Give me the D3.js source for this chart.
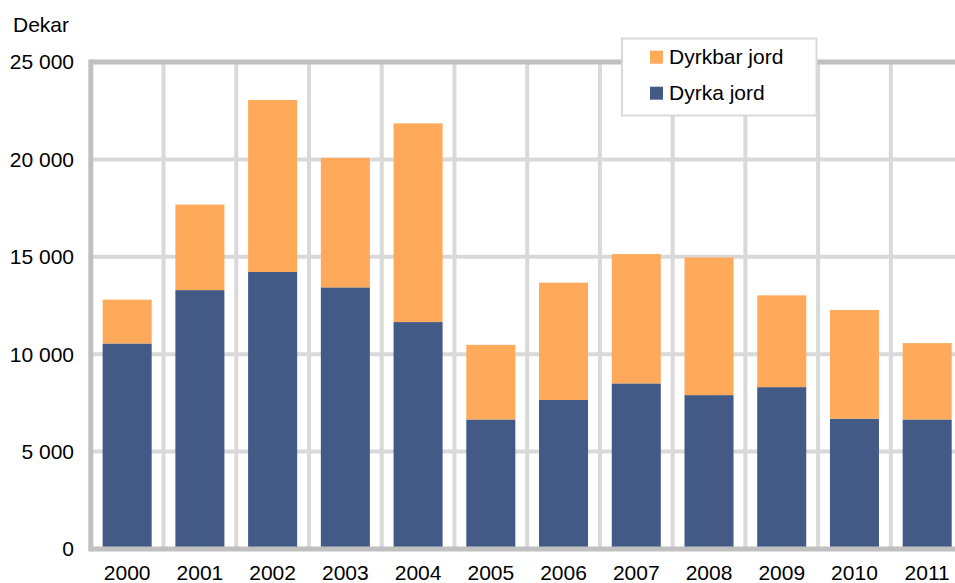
<!DOCTYPE html>
<html>
<head>
<meta charset="utf-8">
<script src="https://cdn.jsdelivr.net/npm/d3@7"></script>
<style>
    body { margin: 0; background: #fff; }
    text { font-family: "Liberation Sans", Arial, sans-serif; fill: #000; }
</style>
</head>
<body>
<div id="chart"></div>
<script>
// years on the x axis
const years = ["2000", "2001", "2002", "2003", "2004", "2005", "2006", "2007", "2008", "2009", "2010", "2011"];
// cultivated land (bottom part)
const dyrka = [10550, 13290, 14220, 13430, 11650, 6650, 7650, 8500, 7900, 8310, 6690, 6650];
// cultivable land (top part)
const dyrkbar = [2250, 4390, 8830, 6650, 10200, 3830, 6020, 6640, 7070, 4710, 5580, 3920];
const yTicks = [0, 5000, 10000, 15000, 20000, 25000];
const seriesNames = ["Dyrka jord", "Dyrkbar jord"];

var width = 955;
var height = 583;
var marginLeft = 90.8;
var marginTop = 62;
var marginBottom = 34;
var plotRight = marginLeft + years.length * 72.73;

const colors = { "Dyrka jord": "#435a87", "Dyrkbar jord": "#ffaa5a" };

const table = years.map((y, i) => ({ year: y, "Dyrka jord": dyrka[i], "Dyrkbar jord": dyrkbar[i] }));
const stacked = d3.stack().keys(seriesNames)(table);

const svg = d3.create("svg")
    .attr("width", width)
    .attr("height", height);

const x = d3.scaleBand()
    .domain(years)
    .range([marginLeft, plotRight])
    .paddingInner(0.326)
    .paddingOuter(0.163);

const y = d3.scaleLinear()
    .domain([0, 25000])
    .range([height - marginBottom, marginTop]);

// horizontal grid
svg.append("g")
    .selectAll("line")
    .data(yTicks.slice(1, -1))
    .join("line")
        .attr("x1", marginLeft)
        .attr("x2", plotRight)
        .attr("y1", d => y(d))
        .attr("y2", d => y(d))
        .attr("stroke", "#d9d9d9")
        .attr("stroke-width", 4);

// vertical grid between categories
svg.append("g")
    .selectAll("line")
    .data(years.slice(1))
    .join("line")
        .attr("x1", d => x(d) - x.step() * x.paddingInner() / 2)
        .attr("x2", d => x(d) - x.step() * x.paddingInner() / 2)
        .attr("y1", y(25000))
        .attr("y2", y(0))
        .attr("stroke", "#d9d9d9")
        .attr("stroke-width", 4);

// stacked bars
svg.append("g")
    .selectAll("g")
    .data(stacked)
    .join("g")
        .attr("fill", d => colors[d.key])
    .selectAll("rect")
    .data(d => d)
    .join("rect")
        .attr("x", d => x(d.data.year))
        .attr("width", x.bandwidth())
        .attr("y", d => y(d[1]))
        .attr("height", d => y(d[0]) - y(d[1]));

// frame lines: left, bottom, top
const frame = svg.append("g")
    .attr("stroke", "#c0c0c0")
    .attr("stroke-width", 5);
frame.append("line")
    .attr("x1", marginLeft).attr("x2", marginLeft)
    .attr("y1", y(25000) - 2.5).attr("y2", y(0) + 2.5);
frame.append("line")
    .attr("x1", marginLeft).attr("x2", plotRight)
    .attr("y1", y(0)).attr("y2", y(0));
frame.append("line")
    .attr("x1", marginLeft).attr("x2", plotRight)
    .attr("y1", y(25000)).attr("y2", y(25000));

// y axis labels
const fmt = d => d3.format(",")(d).replace(/,/g, " ");
svg.append("g")
    .selectAll("text")
    .data(yTicks)
    .join("text")
        .attr("x", 74)
        .attr("y", d => y(d))
        .attr("dy", "0.35em")
        .attr("text-anchor", "end")
        .attr("font-size", 21)
        .text(fmt);

// x axis labels
svg.append("g")
    .selectAll("text")
    .data(years)
    .join("text")
        .attr("x", d => x(d) + x.bandwidth() / 2)
        .attr("y", 580)
        .attr("text-anchor", "middle")
        .attr("font-size", 21)
        .text(d => d);

// unit title
svg.append("text")
    .attr("x", 13)
    .attr("y", 31.5)
    .attr("font-size", 21)
    .text("Dekar");

// legend
const legend = svg.append("g");
legend.append("rect")
    .attr("x", 622)
    .attr("y", 38.5)
    .attr("width", 194.5)
    .attr("height", 77)
    .attr("fill", "#fff")
    .attr("stroke", "#d9d9d9")
    .attr("stroke-width", 2);

const legendItems = ["Dyrkbar jord", "Dyrka jord"];
legendItems.forEach((name, i) => {
    legend.append("rect")
        .attr("x", 650)
        .attr("y", 50.7 + i * 36)
        .attr("width", 13)
        .attr("height", 13)
        .attr("fill", colors[name]);
    legend.append("text")
        .attr("x", 669)
        .attr("y", 64 + i * 36)
        .attr("font-size", 21)
        .text(name);
});

document.getElementById("chart").appendChild(svg.node());
</script>
</body>
</html>
